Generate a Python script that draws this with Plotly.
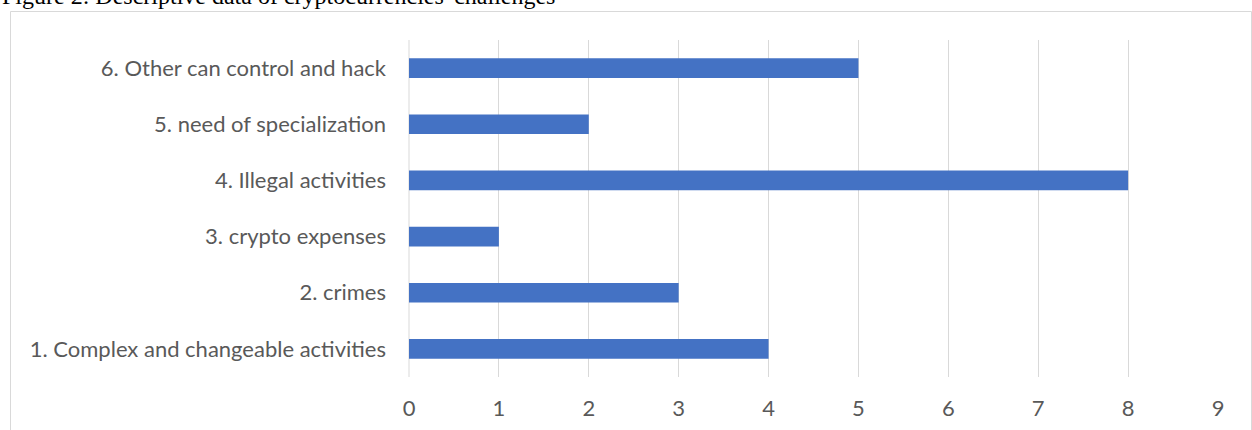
import plotly.graph_objects as go

categories = [
    "1. Complex and changeable activities",
    "2. crimes",
    "3. crypto expenses",
    "4. Illegal activities",
    "5. need of specialization",
    "6. Other can control and hack",
]
values = [4, 3, 1, 8, 2, 5]
x_ticks = [0, 1, 2, 3, 4, 5, 6, 7, 8, 9]
title_text = "Figure 2: Descriptive data of cryptocurrencies' challenges"

W, H = 1252, 430
L, R, T, B = 409, 34, 40, 53
pw, ph = W - L - R, H - T - B

def px(x):
    return (x - L) / pw

def py(y):
    return 1 - (y - T) / ph

fig = go.Figure()
fig.add_trace(go.Bar(
    y=categories, x=values, orientation="h",
    marker=dict(color="#4472C4", line=dict(width=0)),
    width=0.35,
))

fig.update_layout(
    width=W, height=H,
    margin=dict(l=L, r=R, t=T, b=B, pad=0, autoexpand=False),
    paper_bgcolor="white", plot_bgcolor="white",
    showlegend=False,
    font=dict(family="Lato, Open Sans, sans-serif", size=22, color="#595959"),
    xaxis=dict(
        range=[0, 9], tickvals=x_ticks, showgrid=True, gridcolor="#d9d9d9",
        gridwidth=1, zeroline=False, showline=False, ticks="",
        ticklabelstandoff=16, tickfont=dict(size=22, color="#595959"),
        fixedrange=True, automargin=False,
    ),
    yaxis=dict(
        categoryorder="array", categoryarray=categories,
        showgrid=False, zeroline=False, showline=False, ticks="",
        ticklabelstandoff=22, tickfont=dict(size=22, color="#595959"),
        range=[-0.5, 5.5], automargin=False,
    ),
    shapes=[
        dict(type="rect", xref="paper", yref="paper",
             x0=px(10.5), x1=px(1251.5), y0=py(11.5), y1=py(440),
             line=dict(color="#d9d9d9", width=1), fillcolor="rgba(0,0,0,0)",
             layer="below"),
        dict(type="line", xref="paper", yref="paper",
             x0=px(409), x1=px(409), y0=0, y1=1,
             line=dict(color="#d9d9d9", width=1), layer="below"),
    ],
    annotations=[
        dict(text=title_text, xref="paper", yref="paper",
             x=px(0), y=py(6), xanchor="left", yanchor="bottom",
             showarrow=False, yshift=-5,
             font=dict(family="Liberation Serif, Times New Roman, serif",
                       size=24, color="black")),
    ],
)

fig.write_html("out.html")
